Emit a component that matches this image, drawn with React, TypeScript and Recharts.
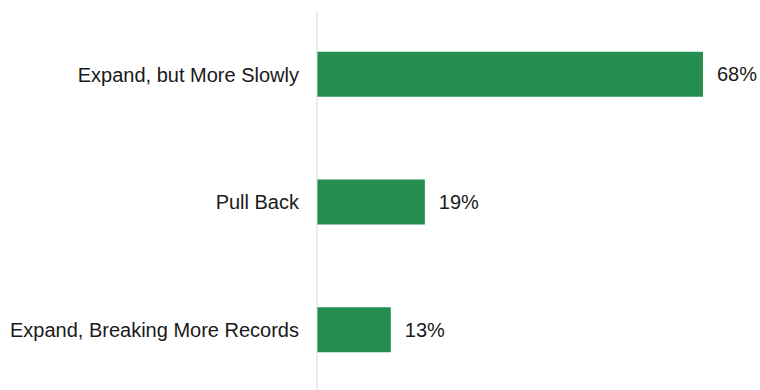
import React from "react";
import { BarChart, Bar, XAxis, YAxis, LabelList } from "recharts";

const categories = ["Expand, but More Slowly", "Pull Back", "Expand, Breaking More Records"];
const values = [68, 19, 13];

const data = categories.map((name, i) => ({ name, value: values[i] }));

const FONT = "'Liberation Sans', Arial, sans-serif";

export default function App() {
  return (
    <div style={{ position: "absolute", left: 0, top: 0, width: 760, height: 390, overflow: "hidden", background: "#fff" }}>
      <BarChart
        width={760}
        height={394}
        data={data}
        layout="vertical"
        margin={{ top: 10.75, right: 17.3, bottom: 0, left: 0 }}
        barCategoryGap={0}
      >
        <XAxis type="number" domain={[0, 75]} hide />
        <YAxis
          type="category"
          dataKey="name"
          width={317}
          tickLine={false}
          tickSize={0}
          tickMargin={18}
          axisLine={{ stroke: "#d9d9d9", strokeWidth: 1 }}
          tick={{ fill: "#1a1a1a", fontSize: 20, fontFamily: FONT }}
          interval={0}
        />
        <Bar dataKey="value" fill="#238e4f" barSize={45} isAnimationActive={false}>
          <LabelList
            dataKey="value"
            position="right"
            offset={14}
            formatter={(v: number) => `${v}%`}
            style={{ fill: "#1a1a1a", fontSize: 20, fontFamily: FONT }}
          />
        </Bar>
      </BarChart>
    </div>
  );
}
